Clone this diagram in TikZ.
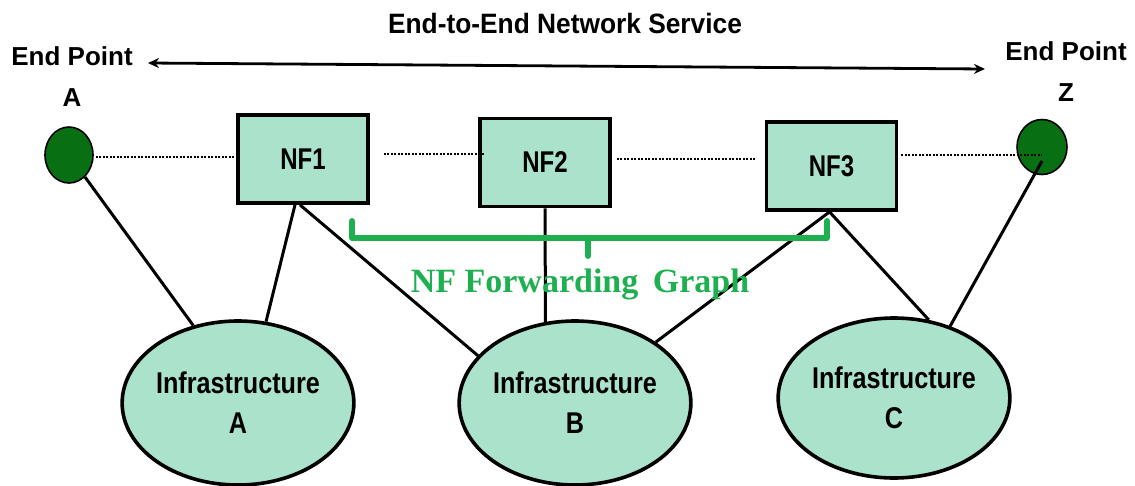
\documentclass[tikz,border=0pt]{standalone}
\usepackage{fontspec}
\setmainfont{Liberation Sans}
\newfontfamily\narrowfont{Liberation Sans}[FakeStretch=0.84]
\newfontfamily\nffont{Liberation Sans}[FakeStretch=0.8]
\newfontfamily\titlefont{Liberation Sans}[FakeStretch=0.94]
\newfontfamily\graphfont{Liberation Serif}
\usetikzlibrary{arrows.meta,shapes.geometric}
\definecolor{mint}{RGB}{170,226,203}
\definecolor{endgreen}{RGB}{8,112,18}
\definecolor{fggreen}{RGB}{30,176,80}
\begin{document}
\begin{tikzpicture}[x=1pt,y=-1pt,
  nfbox/.style={draw, line width=3.8pt, fill=mint, minimum width=130pt, minimum height=88pt, inner sep=0pt,
    font=\nffont\bfseries\fontsize{30}{30}\selectfont},
  infra/.style={draw, ellipse, line width=3.6pt, fill=mint, minimum width=224pt, minimum height=164pt, inner sep=0pt,
    align=center, font=\narrowfont\bfseries\fontsize{30}{40}\selectfont},
  endpt/.style={draw, ellipse, line width=1.6pt, fill=endgreen, minimum width=48pt, minimum height=56pt, inner sep=0pt},
  lbl/.style={align=center, font=\bfseries\fontsize{26}{41}\selectfont},
  dotline/.style={line width=2.6pt, dash pattern=on 1.7pt off 1.8pt},
  link/.style={line width=3pt},
  fgbrace/.style={line width=6pt, draw=fggreen, line cap=round, line join=round},
]
\useasboundingbox (0,0) rectangle (1135,485);

% title and service arrow
\node[font=\titlefont\bfseries\fontsize{28}{28}\selectfont] (title) at (565,23) {End-to-End Network Service};
\coordinate (arrL) at (148,63);
\coordinate (arrR) at (985,69);
\draw[line width=2.8pt, {Stealth[length=11pt,width=10pt]}-{Stealth[length=11pt,width=10pt]}] (arrL) -- (arrR);

% end point labels
\node[lbl] (labA) at (72,77) {End Point\\A};
\node[lbl] (labZ) at (1066,72) {End Point\\Z};

% nodes
\node[endpt] (epA) at (69,155) {};
\node[endpt, minimum width=50pt, minimum height=55pt] (epZ) at (1042,147) {};
\node[nfbox] (nf1) at (303,159) {NF1};
\node[nfbox] (nf2) at (545,162.5) {NF2};
\node[nfbox] (nf3) at (831.5,166) {NF3};
\node[infra] (infA) at (238,403) {Infrastructure\\A};
\node[infra] (infB) at (575,403) {Infrastructure\\B};
\node[infra, minimum width=218pt, minimum height=160pt] (infC) at (894,398) {Infrastructure\\C};

% solid links
\draw[link] (epA.-54) -- (infA.120.6);
\draw[link] ([xshift=-8pt]nf1.south) -- (infA.71.6);
\draw[link] ([xshift=-3pt]nf1.south) -- (infB.154);
\draw[link] (nf2.south) -- (infB.110);
\draw[link] ([xshift=-2pt]nf3.south) -- (infB.37.6);
\draw[link] ([xshift=-2pt]nf3.south) -- (infC.66.5);
\draw[link] ([yshift=-14pt]epZ.center) -- (infC.52.7);

% dotted forwarding path
\draw[dotline] ([xshift=2pt]epA.east |- 0,157) -- (nf1.west |- 0,157);
\draw[dotline] ([xshift=14pt]nf1.east |- 0,154) -- ([xshift=6pt]nf2.west |- 0,154);
\draw[dotline] ([xshift=5pt]nf2.east |- 0,159) -- ([xshift=-9pt]nf3.west |- 0,159);
\draw[dotline] ([xshift=3pt]nf3.east |- 0,155) -- (epZ.center |- 0,155);

% NF forwarding graph brace
\draw[fgbrace] (352,221) -- (352,238) -- (827,238) -- (827,221);
\draw[fgbrace] (588,238) -- (588,256);
\node[anchor=base, text=fggreen, font=\graphfont\bfseries\fontsize{34}{34}\selectfont] (fglabel) at (580,292) {NF Forwarding\hspace{6pt} Graph};
\end{tikzpicture}
\end{document}
